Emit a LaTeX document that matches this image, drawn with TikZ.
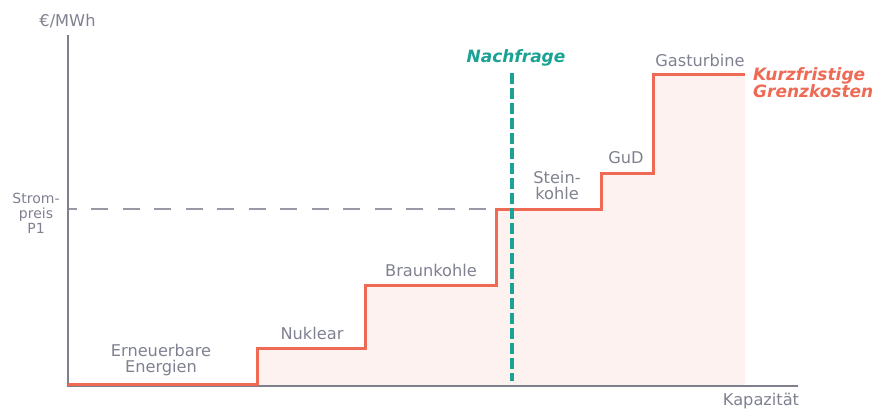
\documentclass[tikz,border=0pt]{standalone}
\usepackage{fontspec}
\setmainfont{DejaVu Sans}
\definecolor{axisgray}{HTML}{7E808E}
\definecolor{txtgray}{HTML}{7F8190}
\definecolor{stepred}{HTML}{EE6A55}
\definecolor{fillpink}{HTML}{FDF2F0}
\definecolor{teal2}{HTML}{1AA294}
\begin{document}
\begin{tikzpicture}[x=1pt,y=-1pt,
  lbl/.style={text=txtgray,font=\fontsize{16.2}{16}\selectfont,inner sep=0pt,align=center},
  smalllbl/.style={text=txtgray,font=\fontsize{14}{15}\selectfont,inner sep=0pt,align=center},
  emph/.style={font=\fontsize{17}{17}\selectfont\bfseries\itshape,inner sep=0pt},
  axisline/.style={draw=axisgray,line width=2pt},
  stepline/.style={draw=stepred,line width=3pt,line join=miter},
  pricedash/.style={draw=axisgray!80,line width=2pt,dash pattern=on 17pt off 14.5pt,dash phase=8pt},
  demanddash/.style={draw=teal2,line width=3.3pt,dash pattern=on 10.5pt off 4.5pt}]
\useasboundingbox (0,0) rectangle (873,410);
% coordinates
\coordinate (O) at (67.5,386);
\coordinate (Ytop) at (67.5,35);
\coordinate (Xend) at (798,386);
\coordinate (s0) at (67.5,384);
\coordinate (s1) at (257,384);
\coordinate (s2) at (257,348);
\coordinate (s3) at (365,348);
\coordinate (s4) at (365,285);
\coordinate (s5) at (496,285);
\coordinate (s6) at (496,209);
\coordinate (s7) at (601,209);
\coordinate (s8) at (601,173);
\coordinate (s9) at (653,173);
\coordinate (s10) at (653,74);
\coordinate (s11) at (745,74);
\coordinate (fb) at (745,386);
\coordinate (fa) at (257,386);
\coordinate (p0) at (67.5,209);
\coordinate (d0) at (512,73);
\coordinate (d1) at (512,381);
% fill
\fill[fillpink] (fa) -- (s2) -- (s3) -- (s4) -- (s5) -- (s6) -- (s7) -- (s8) -- (s9) -- (s10) -- (s11) -- (fb) -- cycle;
% price dashed
\draw[pricedash] (p0) -- (s6);
% axes
\draw[axisline] (Ytop) -- (O) -- (Xend);
% step
\draw[stepline] (s0) -- (s1) -- (s2) -- (s3) -- (s4) -- (s5) -- (s6) -- (s7) -- (s8) -- (s9) -- (s10) -- (s11);
% demand
\draw[demanddash] (d0) -- (d1);
% labels
\node[lbl] (ylab) at (67.5,21) {€/MWh};
\node[lbl] (xlab) at (761,401) {Kapazität};
\node[smalllbl] (price) at (36,213) {Strom-\\preis\\P1};
\node[lbl] (ee) at (161,360) {Erneuerbare\\Energien};
\node[lbl] (nuk) at (312,333) {Nuklear};
\node[lbl] (bk) at (431,270) {Braunkohle};
\node[lbl] (sk) at (557,185.5) {Stein-\\kohle};
\node[lbl] (gud) at (626,158) {GuD};
\node[lbl] (gt) at (700,60) {Gasturbine};
\node[emph,text=teal2] (nf) at (516,58) {Nachfrage};
\node[emph,text=stepred,align=left,anchor=west] (kg) at (753,82.5) {Kurzfristige\\Grenzkosten};
\end{tikzpicture}
\end{document}
